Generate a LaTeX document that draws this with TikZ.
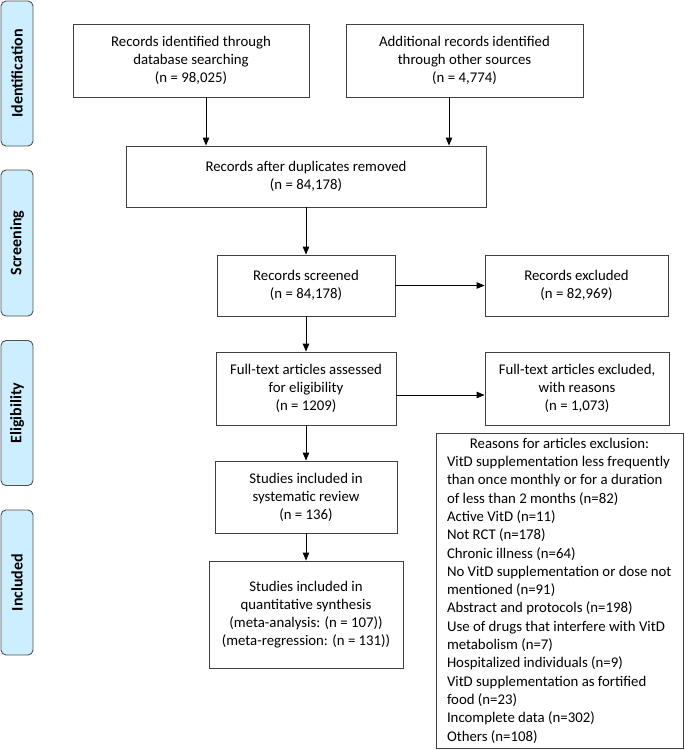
\documentclass[tikz,border=0pt]{standalone}
\usepackage{fontspec}
\setmainfont{Carlito}
\usetikzlibrary{arrows.meta,calc}
\definecolor{boxgray}{HTML}{404040}
\definecolor{sidegray}{HTML}{505050}
\definecolor{sideblue}{HTML}{CCEEFF}
\begin{document}
\begin{tikzpicture}[x=1pt,y=-1pt,
  box/.style={draw=boxgray, line width=0.9pt, align=center, inner sep=0pt,
    font=\fontsize{14.8}{18}\selectfont},
  side/.style={draw=sidegray, fill=sideblue, rounded corners=5pt, line width=0.9pt,
    rotate=90, minimum height=32pt, inner sep=0pt,
    font=\fontsize{16}{18}\selectfont\bfseries},
  arr/.style={-{Triangle[length=8pt,width=6.5pt]}, line width=0.9pt, black}]
\useasboundingbox (0,0) rectangle (685,750);

% phase labels
\node[side, minimum width=145pt] (s1) at (17,73.5) {Identification};
\node[side, minimum width=146pt] (s2) at (17,243) {Screening};
\node[side, minimum width=145pt] (s3) at (17,413) {Eligibility};
\node[side, minimum width=145pt] (s4) at (17,582.5) {Included};

% boxes
\node[box, minimum width=236pt, minimum height=73pt] (A) at (191,60.5)
  {Records identified through\\database searching\\(n = 98,025)};
\node[box, minimum width=237pt, minimum height=73pt] (B) at (464.5,60.5)
  {Additional records identified\\through other sources\\(n = 4,774)};
\node[box, minimum width=360pt, minimum height=61pt] (C) at (306,176.5)
  {Records after duplicates removed\\(n = 84,178)};
\node[box, minimum width=178pt, minimum height=61pt] (D) at (306,285.5)
  {Records screened\\(n = 84,178)};
\node[box, minimum width=183pt, minimum height=61pt] (E) at (576.5,285.5)
  {Records excluded\\(n = 82,969)};
\node[box, minimum width=180pt, minimum height=73pt] (F) at (306,388.5)
  {Full-text articles assessed\\for eligibility\\(n = 1209)};
\node[box, minimum width=184pt, minimum height=73pt] (G) at (577,388.5)
  {Full-text articles excluded,\\with reasons\\(n = 1,073)};
\node[box, minimum width=182pt, minimum height=72pt] (H) at (306,497)
  {Studies included in\\systematic review\\(n = 136)};
\node[box, minimum width=194pt, minimum height=107pt] (I) at (306,614.5)
  {Studies included in\\quantitative synthesis\\(meta-analysis: (n = 107))\\(meta-regression: (n = 131))};
\node[box, minimum width=247pt, minimum height=315pt, align=left,
  font=\fontsize{14.8}{18.3}\selectfont] (J) at (559.5,590.5)
  {\makebox[225pt][c]{Reasons for articles exclusion:}\\
   VitD supplementation less frequently\\
   than once monthly or for a duration\\
   of less than 2 months (n=82)\\
   Active VitD (n=11)\\
   Not RCT (n=178)\\
   Chronic illness (n=64)\\
   No VitD supplementation or dose not\\
   mentioned (n=91)\\
   Abstract and protocols (n=198)\\
   Use of drugs that interfere with VitD\\
   metabolism (n=7)\\
   Hospitalized individuals (n=9)\\
   VitD supplementation as fortified\\
   food (n=23)\\
   Incomplete data (n=302)\\
   Others (n=108)};

% connectors
\coordinate (xa) at (206,0);
\coordinate (xb) at (449,0);
\coordinate (yfg) at (0,395);
\draw[arr] (A.south -| xa) -- (C.north -| xa);
\draw[arr] (B.south -| xb) -- (C.north -| xb);
\draw[arr] (C.south) -- (D.north);
\draw[arr] (D.east) -- (E.west);
\draw[arr] (D.south) -- (F.north);
\draw[arr] (F.east |- yfg) -- (G.west |- yfg);
\draw[arr] (F.south) -- (H.north);
\draw[arr] (H.south) -- (I.north);
\end{tikzpicture}
\end{document}
